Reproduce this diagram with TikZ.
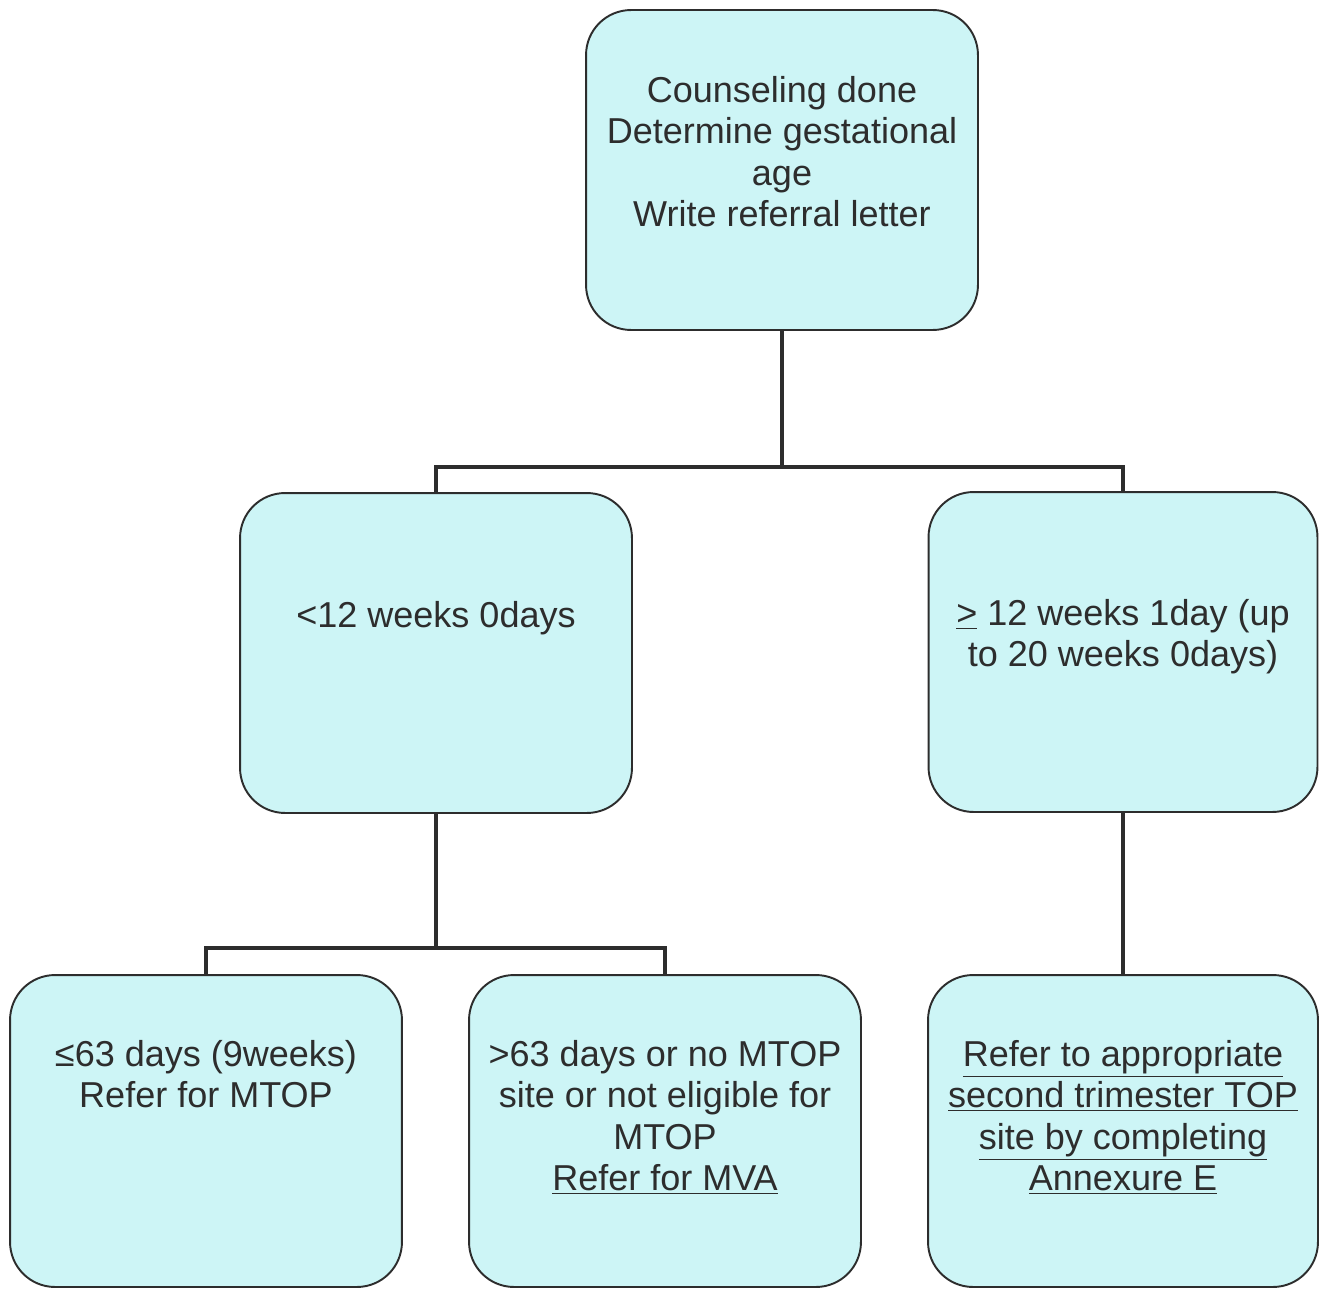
\documentclass[tikz,border=0pt]{standalone}
\usepackage{fontspec}
\setmainfont{Liberation Sans}
\usepackage{tikz}
\usetikzlibrary{positioning}
\definecolor{boxfill}{RGB}{205,245,246}
\definecolor{inkgray}{RGB}{45,45,45}

\begin{document}
\begin{tikzpicture}[x=0.02cm,y=-0.02cm,
  box/.style={draw=inkgray,line width=1.1pt,fill=boxfill,rounded corners=0.9cm,inner sep=0pt,minimum width=7.84cm},
  txt/.style={anchor=north,inner sep=0pt,align=center,text=inkgray,font=\fontsize{20.5}{23.6}\selectfont},
  link/.style={draw=inkgray,line width=2.4pt}]
\useasboundingbox (0,0) rectangle (1322,1291);
\node[box,minimum height=6.4cm](counsel) at (782,170) {};
\node[box,minimum height=6.4cm](lessTwelve) at (436,653) {};
\node[box,minimum height=6.4cm,minimum width=7.78cm](moreTwelve) at (1123,652) {};
\node[box,minimum height=6.24cm](mtop) at (206,1131) {};
\node[box,minimum height=6.24cm](mva) at (665,1131) {};
\node[box,minimum height=6.24cm,minimum width=7.8cm](annex) at (1123,1131) {};
\node[txt](counselText) at (782,76) {Counseling done\\Determine gestational\\age\\Write referral letter};
\node[txt](lessText) at (436,601) {<12 weeks 0days};
\node[txt](moreText) at (1123,599) {\underline{>} 12 weeks 1day (up\\to 20 weeks 0days)};
\node[txt](mtopText) at (206,1040) {≤63 days (9weeks)\\Refer for MTOP};
\node[txt](mvaText) at (665,1040) {>63 days or no MTOP\\site or not eligible for\\MTOP\\\underline{Refer for MVA}};
\node[txt](annexText) at (1123,1040) {\underline{Refer to appropriate}\\\underline{second trimester TOP}\\\underline{site by completing}\\\underline{Annexure E}};
\coordinate (splitTop) at (782,467);
\coordinate (splitLeft) at (436,948);
\draw[link] (counsel.south) -- (splitTop);
\draw[link] (splitTop) -| (lessTwelve.north);
\draw[link] (splitTop) -| (moreTwelve.north);
\draw[link] (lessTwelve.south) -- (splitLeft);
\draw[link] (splitLeft) -| (mtop.north);
\draw[link] (splitLeft) -| (mva.north);
\draw[link] (moreTwelve.south) -- (annex.north);
\end{tikzpicture}
\end{document}
